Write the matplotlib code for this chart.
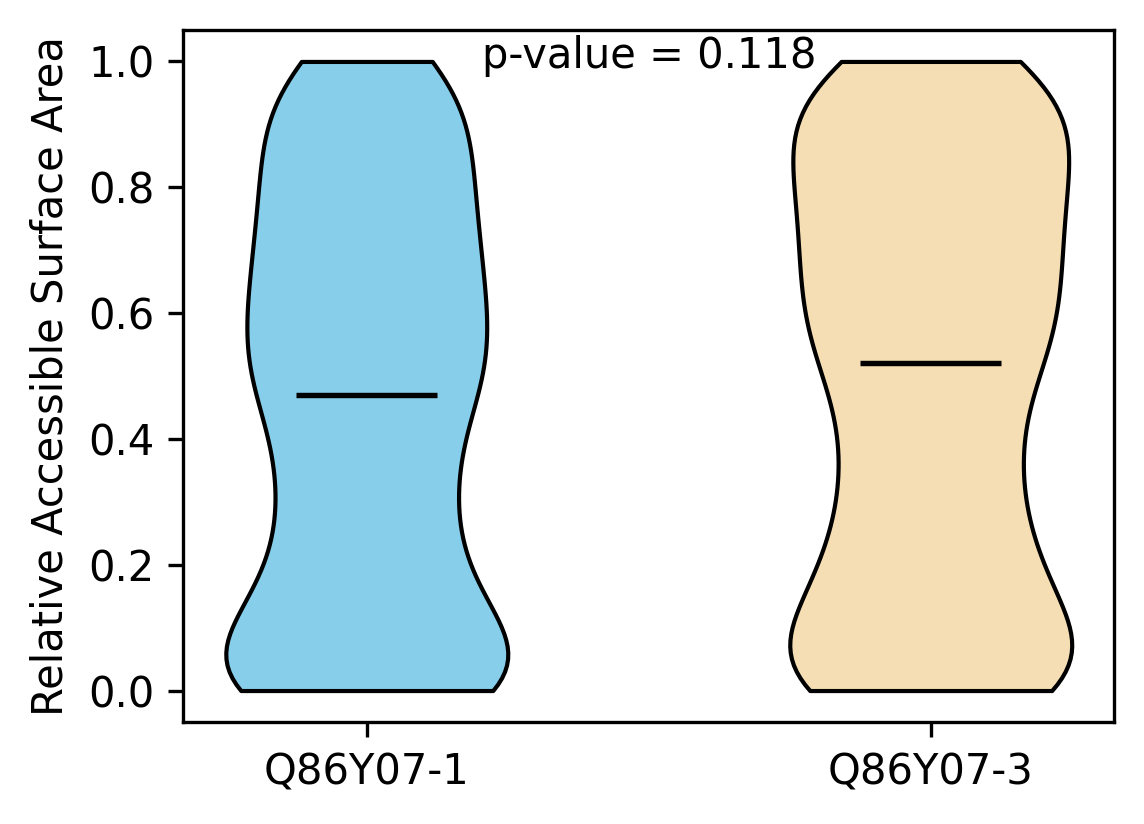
import matplotlib
matplotlib.use('Agg')
import matplotlib.pyplot as plt
import numpy as np

# relative accessible surface area values, binned (value, number of residues)
isoforms   = ['Q86Y07-1', 'Q86Y07-3']
rsa_iso1   = [0.00, 0.05, 0.10, 0.15, 0.20, 0.25, 0.30, 0.35, 0.40, 0.47, 0.50,
              0.55, 0.60, 0.65, 0.70, 0.75, 0.80, 0.85, 0.90, 0.95, 1.00]
count_iso1 = [80, 35, 30, 26, 21, 20, 20, 22, 24, 26, 28,
              28, 29, 28, 27, 26, 25, 25, 25, 25, 26]
rsa_iso3   = [0.00, 0.05, 0.10, 0.15, 0.20, 0.25, 0.30, 0.35, 0.40, 0.45, 0.52,
              0.55, 0.60, 0.65, 0.70, 0.75, 0.80, 0.85, 0.90, 0.95, 1.00]
count_iso3 = [67, 34, 30, 27, 24, 21, 19, 19, 20, 22, 25,
              25, 28, 29, 29, 29, 29, 31, 33, 37, 29]
p_value    = 0.118
colors     = ['skyblue', 'wheat']

data = [np.repeat(rsa_iso1, count_iso1), np.repeat(rsa_iso3, count_iso3)]

fig = plt.figure(figsize=(1144/300, 824/300), dpi=300)
ax  = fig.add_axes([0.1604, 0.1238, 0.8134, 0.8398])

parts = ax.violinplot(data, positions=[1, 2], showmeans=False,
                      showmedians=True, showextrema=False)
for body, c in zip(parts['bodies'], colors):
    body.set_facecolor(c)
    body.set_edgecolor('black')
    body.set_linewidth(1)
    body.set_alpha(1)
parts['cmedians'].set_color('black')
parts['cmedians'].set_linewidth(1.3)

ax.set_xticks([1, 2])
ax.set_xticklabels(isoforms)
ax.set_ylabel('Relative Accessible Surface Area')
ax.text(1.5, 0.99, f'p-value = {p_value}', ha='center', va='baseline')

fig.savefig('out.png', dpi=300)
